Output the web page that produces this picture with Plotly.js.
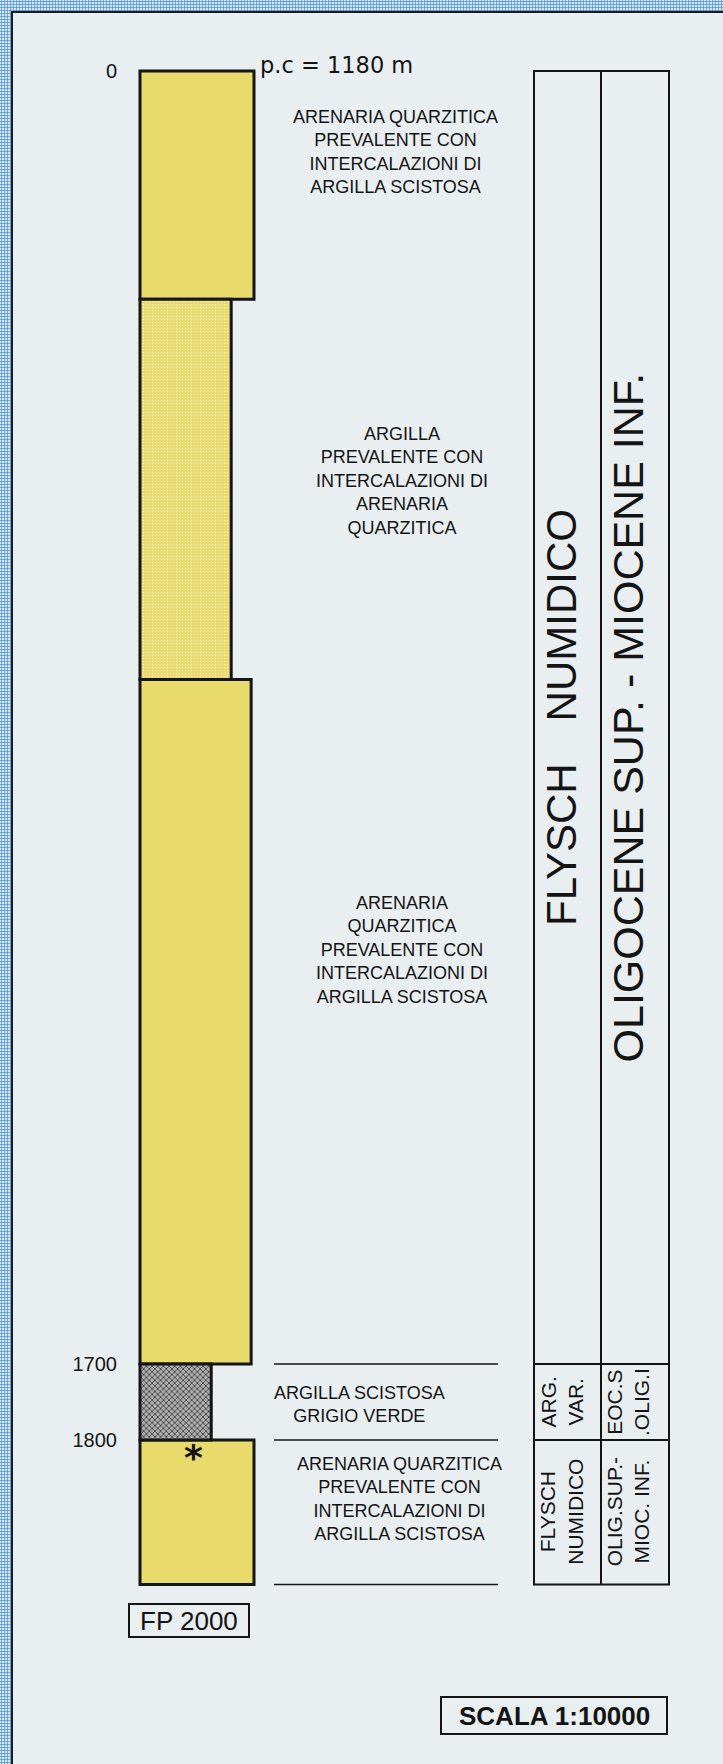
<!DOCTYPE html>
<html>
<head>
<meta charset="utf-8">
<script src="https://cdn.plot.ly/plotly-3.0.1.min.js"></script>
<style>
  html, body { margin:0; padding:0; width:723px; height:1764px; overflow:hidden; }
  body {
    background-color:#d6e6f4;
    background-image: radial-gradient(circle, #4f95d6 0.9px, rgba(0,0,0,0) 1.3px);
    background-size: 3px 3px;
  }
  #sheet { position:absolute; left:11px; top:11px; width:712px; height:1753px;
           background:#e9eef0; border-top:2px solid #1c1c1c; border-left:2px solid #1c1c1c; box-sizing:border-box; }
  #plot { position:absolute; left:0; top:0; width:723px; height:1764px; }
</style>
</head>
<body>
<div id="sheet"></div>
<div id="plot"></div>
<script>
// ---------------- DATA ----------------
// Depth labels (m below ground level, p.c = 1180 m)
const depthTicks = [0, 1700, 1800];
// Lithological layers
const layerTop    = [0, 300, 800, 1700, 1800];
const layerBottom = [300, 800, 1700, 1800, 1990];
const layerWidth  = [4.0, 3.2, 3.9, 2.5, 4.0];   // relative column width
const lithology   = ['arenaria', 'argilla', 'arenaria', 'argilla_scistosa', 'arenaria'];
const descriptions = [
  'ARENARIA QUARZITICA<br>PREVALENTE CON<br>INTERCALAZIONI DI<br>ARGILLA SCISTOSA',
  'ARGILLA<br>PREVALENTE CON<br>INTERCALAZIONI DI<br>ARENARIA<br>QUARZITICA',
  'ARENARIA<br>QUARZITICA<br>PREVALENTE CON<br>INTERCALAZIONI DI<br>ARGILLA SCISTOSA',
  'ARGILLA SCISTOSA<br>GRIGIO VERDE',
  'ARENARIA QUARZITICA<br>PREVALENTE CON<br>INTERCALAZIONI DI<br>ARGILLA SCISTOSA'
];
// Formation / age table
const unitTop       = [0, 1700, 1800];
const unitBottom    = [1700, 1800, 1990];
const unitFormation = ['FLYSCH\u2003NUMIDICO', 'ARG.<br>VAR.', 'FLYSCH<br>NUMIDICO'];
const unitAge       = ['OLIGOCENE SUP. - MIOCENE INF.', 'EOC.S<br>.OLIG.I', 'OLIG.SUP.-<br>MIOC. INF.'];
const wellLabel   = 'FP 2000';
const scaleLabel  = 'SCALA 1:10000';
const elevation   = 'p.c = 1180 m';
const markerDepth = 1820;   // asterisk in the last layer

// ---------------- LAYOUT GEOMETRY ----------------
const W = 723, H = 1764, ML = 121;
const Y0 = 71, PX_PER_M = (1440 - 71) / 1800;
const COL_LEFT = 140, UNIT_PX = 28.5;
function depthAt(py) { return (py - Y0) / PX_PER_M; }
function xp(px) { return (px - ML) / (W - ML); }
function xd(px) { return (px - COL_LEFT) / UNIT_PX; }

const FONT = 'Liberation Sans, Arial, Helvetica, sans-serif';
const INK = '#141414';

const litStyle = {
  arenaria:         { color:'#e8db6c', shape:'',  fg:'#e8db6c', size:4, sol:0.3 },
  argilla:          { color:'#e8da6c', shape:'.', fg:'#f4ecbc', size:3, sol:0.2 },
  argilla_scistosa: { color:'#adadad', shape:'x', fg:'#333333', size:4, sol:0.35 }
};

// one bar trace per lithology (same depth axis / width axis)
const traces = Object.keys(litStyle).map(lit => {
  const idx = lithology.map((l, i) => l === lit ? i : -1).filter(i => i >= 0);
  const s = litStyle[lit];
  return {
    type:'bar', orientation:'h',
    y: idx.map(i => (layerTop[i] + layerBottom[i]) / 2),
    width: idx.map(i => layerBottom[i] - layerTop[i]),
    x: idx.map(i => layerWidth[i]),
    base: 0,
    marker:{
      color: s.color,
      line:{ color:'#151515', width:3 },
      pattern:{ shape: s.shape, fillmode:'overlay', fgcolor: s.fg, fgopacity:1, size: s.size, solidity: s.sol }
    },
    hoverinfo:'skip', showlegend:false
  };
});

// description positions (px on sheet)
const descPos = [[395,152],[402,481],[402,950],[359,1404],[399,1499]];

const annotations = [];
descriptions.forEach((d, i) => {
  annotations.push({ text:d, xref:'paper', yref:'y', x:xp(descPos[i][0]), y:depthAt(descPos[i][1]),
    xanchor:'center', yanchor:'middle', showarrow:false, align:'center',
    font:{ family:FONT, size:18, color:INK } });
});
// elevation label
annotations.push({ text:elevation, xref:'paper', yref:'y', x:xp(258), y:depthAt(65),
  xanchor:'left', yanchor:'middle', showarrow:false,
  font:{ family:'DejaVu Sans, sans-serif', size:22.5, color:INK } });
// asterisk
annotations.push({ text:'*', xref:'x', yref:'y', x: layerWidth[4] * 0.47, y: markerDepth + 3,
  xanchor:'center', yanchor:'middle', showarrow:false,
  font:{ family:'DejaVu Sans, sans-serif', size:36, color:INK, weight:'bold' } });

// table columns
const TL = 534, TM = 601, TR = 669;
unitFormation.forEach((t, i) => {
  const big = i === 0;
  annotations.push({ text:t, xref:'paper', yref:'y', x:xp((TL + TM) / 2 - 6),
    y:(unitTop[i] + unitBottom[i]) / 2, textangle:-90, xanchor:'center', yanchor:'middle',
    showarrow:false, align:'center', font:{ family:FONT, size: big ? 42 : 21, color:INK } });
  annotations.push({ text:unitAge[i], xref:'paper', yref:'y', x:xp((TM + TR) / 2 - 7),
    y:(unitTop[i] + unitBottom[i]) / 2, textangle:-90, xanchor:'center', yanchor:'middle',
    showarrow:false, align:'center', font:{ family:FONT, size: big ? 43 : 21, color:INK } });
});
// boxed labels
annotations.push({ text:wellLabel, xref:'paper', yref:'y', x:xp(189), y:depthAt(1621),
  xanchor:'center', yanchor:'middle', showarrow:false,
  font:{ family:FONT, size:26, color:INK } });
annotations.push({ text:'<b>' + scaleLabel + '</b>', xref:'paper', yref:'y', x:xp(554), y:depthAt(1716),
  xanchor:'center', yanchor:'middle', showarrow:false,
  font:{ family:FONT, size:26, color:INK } });

const shapes = [];
const ln = { color:INK, width:2 };
// table frame
shapes.push({ type:'rect', xref:'paper', yref:'y', x0:xp(TL), x1:xp(TR), y0:unitTop[0], y1:unitBottom[unitBottom.length-1], line:ln });
shapes.push({ type:'line', xref:'paper', yref:'y', x0:xp(TM), x1:xp(TM), y0:unitTop[0], y1:unitBottom[unitBottom.length-1], line:ln });
unitBottom.slice(0, -1).forEach(d => {
  shapes.push({ type:'line', xref:'paper', yref:'y', x0:xp(TL), x1:xp(TR), y0:d, y1:d, line:ln });
});
// description divider lines
[1700, 1800, 1990].forEach(d => {
  shapes.push({ type:'line', xref:'paper', yref:'y', x0:xp(274), x1:xp(498), y0:d, y1:d, line:{ color:INK, width:1.6 } });
});
// boxes
shapes.push({ type:'rect', xref:'paper', yref:'y', x0:xp(129), x1:xp(249), y0:depthAt(1604), y1:depthAt(1637), line:ln });
shapes.push({ type:'rect', xref:'paper', yref:'y', x0:xp(441), x1:xp(667), y0:depthAt(1697), y1:depthAt(1734), line:ln });

const layout = {
  width:W, height:H,
  margin:{ l:ML, r:0, t:0, b:0, pad:0 },
  paper_bgcolor:'rgba(0,0,0,0)', plot_bgcolor:'rgba(0,0,0,0)',
  showlegend:false, hovermode:false, barmode:'overlay',
  xaxis:{ range:[xd(ML), xd(W)], visible:false, fixedrange:true },
  yaxis:{ range:[depthAt(H), depthAt(0)], autorange:false, showgrid:false, zeroline:false, showline:false,
          tickvals: depthTicks, ticktext: depthTicks.map(String), ticks:'', ticklabelstandoff:3,
          tickfont:{ family:FONT, size:20, color:INK }, fixedrange:true },
  shapes: shapes,
  annotations: annotations
};

Plotly.newPlot('plot', traces, layout, { staticPlot:true, displayModeBar:false });
</script>
</body>
</html>
